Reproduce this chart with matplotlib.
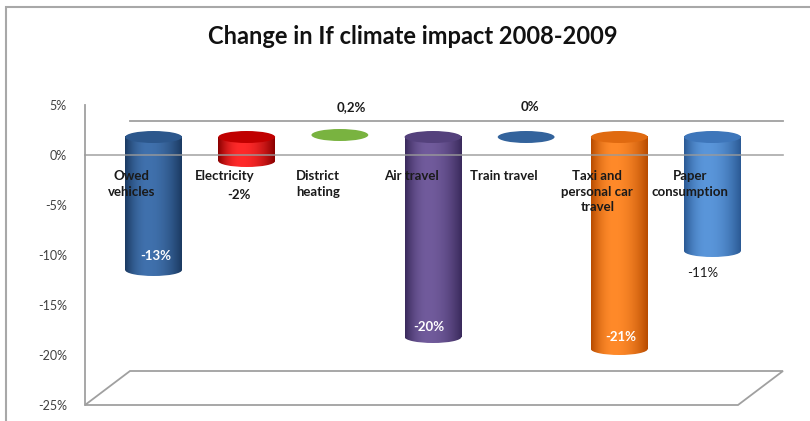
import numpy as np
import matplotlib
matplotlib.use("Agg")
import matplotlib.pyplot as plt
from matplotlib.patches import Ellipse, Rectangle, Polygon
from matplotlib import colors as mcolors

# ---- data ----
categories = ["Owed\nvehicles", "Electricity", "District\nheating", "Air travel",
              "Train travel", "Taxi and\npersonal car\ntravel", "Paper\nconsumption"]
values = [-13.3, -2.4, 0.2, -20, 0, -21.2, -11.4]
value_labels = ["-13%", "-2%", "0,2%", "-20%", "0%", "-21%", "-11%"]
yticks = [5, 0, -5, -10, -15, -20, -25]
ytick_labels = ["5%", "0%", "-5%", "-10%", "-15%", "-20%", "-25%"]
title = "Change in If climate impact 2008-2009"

# ---- styles ----
edge_cols = ["#1b3a62", "#8a0000", "#5c8a2c", "#3a2a5c", "#24497a", "#b84c00", "#2b5a95"]
high_cols = ["#4071ad", "#ff2a2a", "#8fc956", "#715b9c", "#3c6ea8", "#ff8a2a", "#5a96da"]
top_cols = ["#2c578c", "#c00000", "#79b340", "#54417c", "#33639c", "#e06a10", "#3e76ba"]
lbl_style = [  # (dx, dy relative to value, color, bold)
    (0.02, 1.4, "white", True),
    (-0.08, -3.4, "#1a1a1a", True),
    (0.12, 2.8, "#1a1a1a", True),
    (-0.04, 1.0, "white", True),
    (0.04, 3.0, "#1a1a1a", True),
    (0.02, 1.2, "white", True),
    (-0.1, -2.2, "#1a1a1a", False),
]

plt.rcParams['font.family'] = ['Lato', 'DejaVu Sans']

W, H = 810, 421
fig = plt.figure(figsize=(W / 100, H / 100), dpi=100)

# chart-area border
fig.patches.append(Rectangle((6 / W, -0.05), 1.2, 1 - 7 / H + 0.05, transform=fig.transFigure,
                             fill=False, edgecolor="#a8a8a8", lw=1.5, clip_on=False))

fig.text(413 / W, 1 - 36 / H, title, ha="center", va="center", fontsize=17,
         fontweight="bold", color="#111111")

ymin, ymax = -25, 5
n = len(categories)
ax_left, ax_bottom, ax_w, ax_h = 85, 16, 652, 300
ax_bars = fig.add_axes([(ax_left + 22) / W, (ax_bottom + 18) / H, ax_w / W, ax_h / H], zorder=1)
ax = fig.add_axes([ax_left / W, ax_bottom / H, ax_w / W, ax_h / H], zorder=2)
for a in (ax, ax_bars):
    a.set_xlim(-0.5, n - 0.5)
    a.set_ylim(ymin, ymax)
ax_bars.axis("off")
ax.patch.set_alpha(0)

# back plane offset in front-data units
dx_back = 45 / (ax_w / n)
dy_back = 34 / (ax_h / (ymax - ymin))
xr = n - 0.5 + (783 - (ax_left + ax_w)) / (ax_w / n)  # right end of back lines

# floor & back line (behind bars)
floor = Polygon([(-0.5, ymin), (-0.5 + dx_back, ymin + dy_back), (xr, ymin + dy_back),
                 (xr - dx_back, ymin)], closed=True, facecolor="white", edgecolor="#a0a0a0",
                lw=1.3, transform=ax.transData, clip_on=False, zorder=0)
ax_bars.add_patch(floor)
ax_bars.plot([-0.5 + dx_back, xr], [0 + dy_back, 0 + dy_back], color="#a0a0a0", lw=1.3,
             transform=ax.transData, clip_on=False, zorder=0)

# cylinders
bw = 0.61
eh = 1.2
N = 64
t = np.linspace(0, 1, N)
u = np.where(t > 0.4, (t - 0.4) / 0.6, (0.4 - t) / 0.4)
f = 1 - u ** 2
for i, v in enumerate(values):
    e = np.array(mcolors.to_rgb(edge_cols[i]))
    h = np.array(mcolors.to_rgb(high_cols[i]))
    grad = (e[None, :] + (h - e)[None, :] * f[:, None])[None, :, :]
    if v < 0:
        im = ax_bars.imshow(grad, extent=[i - bw / 2, i + bw / 2, v, 0], aspect="auto",
                            interpolation="bilinear", zorder=2)
        bot = Ellipse((i, v), bw, eh, facecolor="none", edgecolor="none")
        ax_bars.add_patch(bot)
        im2 = ax_bars.imshow(grad, extent=[i - bw / 2, i + bw / 2, v - eh / 2, v],
                             aspect="auto", interpolation="bilinear", zorder=2)
        im2.set_clip_path(bot)
        ax_bars.add_patch(Ellipse((i, 0), bw, eh, facecolor=top_cols[i], edgecolor="none",
                                  zorder=3))
    else:
        ax_bars.add_patch(Ellipse((i, v), bw, eh, facecolor=top_cols[i], edgecolor="none",
                                  zorder=3))
    ldx, ldy, lc, lb = lbl_style[i]
    ax_bars.text(i + ldx, v + ldy, value_labels[i], ha="center", va="center", fontsize=9.5,
                 color=lc, fontweight="bold" if lb else "normal", zorder=5)

ax_bars.set_xlim(-0.5, n - 0.5)
ax_bars.set_ylim(ymin, ymax)

# front axis
for s in ["top", "right", "bottom"]:
    ax.spines[s].set_visible(False)
ax.spines["left"].set_color("#a0a0a0")
ax.spines["left"].set_linewidth(1.3)
ax.set_xticks([])
ax.set_yticks(yticks)
ax.set_yticklabels(ytick_labels)
ax.tick_params(axis="y", length=0, pad=13, labelsize=9, labelcolor="#404040")
ax.plot([-0.5, xr], [0, 0], color="#9a9a9a", lw=1.2, alpha=0.85, clip_on=False, zorder=3)

for i, c in enumerate(categories):
    ax.text(i, -1.5, c, ha="center", va="top", fontsize=9.5, fontweight="bold",
            color="#1a1a1a", linespacing=1.35, multialignment="center", zorder=4)

fig.savefig("out.png", dpi=100)
